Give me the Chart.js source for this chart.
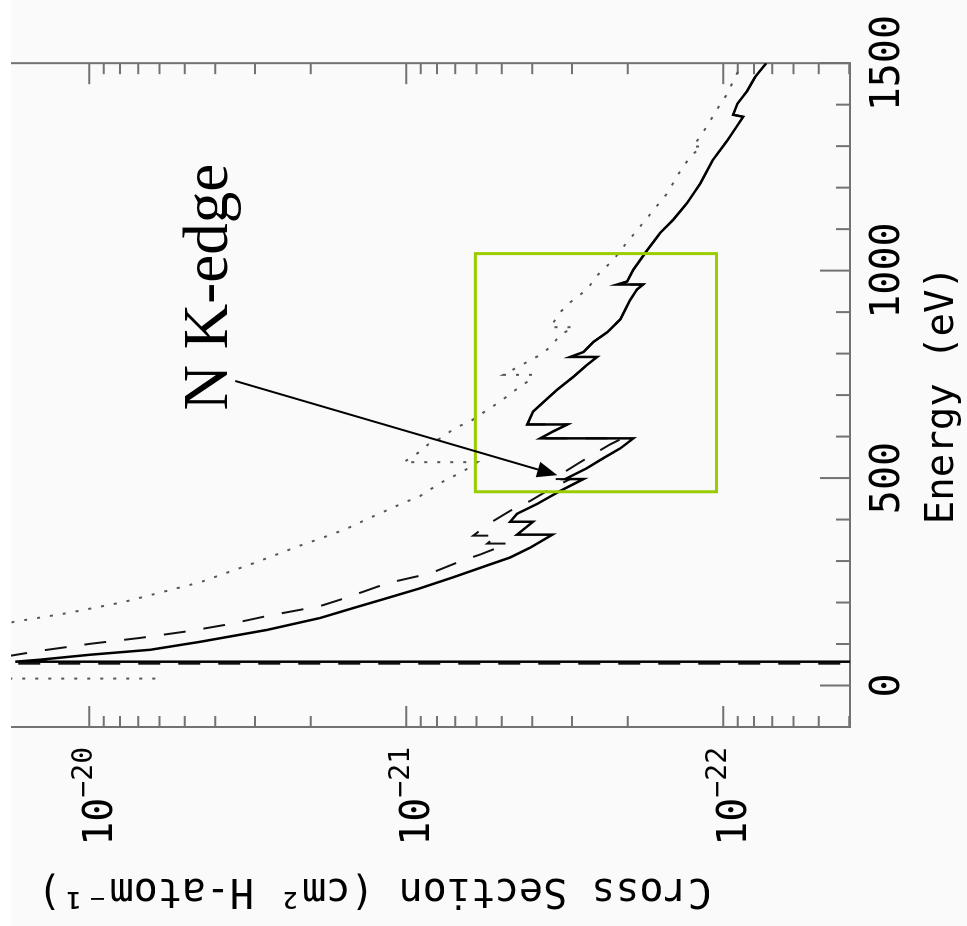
<!DOCTYPE html>
<html>
<head>
<meta charset="utf-8">
<title>Cross Section vs Energy</title>
<script src="https://cdn.jsdelivr.net/npm/chart.js@4.4.1/dist/chart.umd.min.js"></script>
<style>
	html, body { margin: 0; padding: 0; background: #fff; }
	#frame { position: absolute; left: 11px; top: 0; width: 956px; height: 926px; overflow: hidden; background: #fafafa; }
	#turn { position: absolute; left: -51px; top: -81px; width: 926px; height: 1088px; transform: rotate(-90deg); }
	#plot { display: block; }
</style>
</head>
<body>
<div id="frame"><div id="turn"><canvas id="plot" width="926" height="1088"></canvas></div></div>
<script>
// energies in eV, cross sections in cm^2 per H atom
var solidEnergy = [57.4, 57.4, 62.2, 74.2, 86.1, 105.3, 134.0, 162.7, 186.6, 210.5, 234.4, 260.8, 289.5, 308.6, 332.5, 363.6, 363.6, 394.7, 394.7, 413.9, 437.8, 468.9, 497.6, 497.6, 523.9, 547.8, 571.8, 595.7, 595.7, 612.4, 629.2, 629.2, 660.3, 691.4, 712.9, 744.0, 772.7, 791.9, 791.9, 803.8, 827.8, 851.7, 882.8, 928.2, 954.5, 966.5, 966.5, 973.7, 1002.4, 1043.1, 1090.9, 1122.0, 1162.7, 1210.5, 1265.6, 1313.4, 1370.8, 1375.6, 1401.9, 1433.0, 1466.5, 1500.0, 1516.7];
var solidSigma = [1e-23, 1.71e-20, 1.43e-20, 9.93e-21, 6.42e-21, 4.47e-21, 2.75e-21, 1.87e-21, 1.47e-21, 1.15e-21, 9.03e-22, 7.11e-22, 5.55e-22, 4.70e-22, 4.06e-22, 3.46e-22, 4.47e-22, 3.98e-22, 4.70e-22, 4.47e-22, 3.86e-22, 3.27e-22, 2.76e-22, 3.15e-22, 2.69e-22, 2.39e-22, 2.11e-22, 1.92e-22, 3.78e-22, 3.44e-22, 3.10e-22, 4.15e-22, 3.98e-22, 3.59e-22, 3.34e-22, 2.97e-22, 2.69e-22, 2.50e-22, 3.04e-22, 2.76e-22, 2.57e-22, 2.32e-22, 2.11e-22, 1.97e-22, 1.87e-22, 1.79e-22, 2.16e-22, 2.01e-22, 1.92e-22, 1.76e-22, 1.58e-22, 1.44e-22, 1.30e-22, 1.18e-22, 1.08e-22, 9.71e-23, 8.65e-23, 9.30e-23, 9.03e-23, 8.40e-23, 7.93e-23, 7.32e-23, 7.11e-23];

var dashEnergy = [52.6, 52.6, 83.7, 100.5, 114.8, 131.6, 148.3, 167.5, 191.4, 210.5, 246.4, 270.3, 299.0, 315.8, 342.1, 342.1, 361.2, 361.2, 392.3, 421.1, 445.0, 473.7, 497.6, 497.6, 533.5, 557.4, 581.3, 595.7, 595.7, 612.4, 629.2, 629.2, 660.3, 691.4, 712.9, 744.0, 772.7, 791.9, 791.9, 803.8, 827.8, 851.7, 882.8, 928.2, 954.5, 966.5, 966.5, 973.7, 1002.4, 1043.1, 1090.9, 1122.0, 1162.7, 1210.5, 1265.6, 1313.4, 1370.8, 1375.6, 1401.9, 1433.0, 1466.5, 1500.0, 1516.7];
var dashSigma = [1e-23, 2.5e-20, 1.43e-20, 9.93e-21, 6.90e-21, 4.80e-21, 3.59e-21, 2.75e-21, 1.87e-21, 1.56e-21, 1.15e-21, 8.40e-22, 6.76e-22, 5.84e-22, 4.77e-22, 5.55e-22, 5.16e-22, 6.15e-22, 5.43e-22, 4.70e-22, 4.06e-22, 3.51e-22, 3.04e-22, 3.44e-22, 2.89e-22, 2.57e-22, 2.27e-22, 2.08e-22, 3.78e-22, 3.44e-22, 3.10e-22, 4.15e-22, 3.98e-22, 3.59e-22, 3.34e-22, 2.97e-22, 2.69e-22, 2.50e-22, 3.04e-22, 2.76e-22, 2.57e-22, 2.32e-22, 2.11e-22, 1.97e-22, 1.87e-22, 1.79e-22, 2.16e-22, 2.01e-22, 1.92e-22, 1.76e-22, 1.58e-22, 1.44e-22, 1.30e-22, 1.18e-22, 1.08e-22, 9.71e-23, 8.65e-23, 9.30e-23, 9.03e-23, 8.40e-23, 7.93e-23, 7.32e-23, 7.11e-23];

var dotEnergy = [16.7, 16.7, 153.1, 174.6, 201.0, 248.8, 294.3, 337.3, 356.5, 378.0, 404.3, 440.2, 456.9, 483.3, 497.6, 509.6, 523.9, 538.3, 538.3, 547.8, 564.6, 581.3, 595.7, 612.4, 624.4, 636.4, 653.1, 672.2, 684.2, 703.3, 720.1, 732.1, 748.8, 748.8, 796.7, 815.8, 844.5, 863.6, 863.6, 899.5, 923.4, 954.5, 988.0, 1026.3, 1062.2, 1114.8, 1155.5, 1186.6, 1227.3, 1275.1, 1299.0, 1299.0, 1323.0, 1370.8, 1401.9, 1425.8, 1456.9, 1500.0, 1516.7];
var dotSigma = [6.19e-21, 5e-20, 1.74e-20, 1.17e-20, 7.81e-21, 4.47e-21, 3.04e-21, 2.16e-21, 1.83e-21, 1.54e-21, 1.30e-21, 1.02e-21, 9.03e-22, 7.98e-22, 7.43e-22, 6.85e-22, 6.37e-22, 5.97e-22, 1.02e-21, 9.71e-22, 9.03e-22, 8.52e-22, 7.81e-22, 7.26e-22, 6.85e-22, 6.28e-22, 5.84e-22, 5.35e-22, 5.05e-22, 4.70e-22, 4.37e-22, 4.15e-22, 3.98e-22, 4.94e-22, 3.78e-22, 3.51e-22, 3.27e-22, 2.97e-22, 3.51e-22, 3.27e-22, 3.04e-22, 2.69e-22, 2.50e-22, 2.22e-22, 2.04e-22, 1.79e-22, 1.62e-22, 1.50e-22, 1.40e-22, 1.27e-22, 1.17e-22, 1.25e-22, 1.18e-22, 1.08e-22, 1.02e-22, 9.71e-23, 9.30e-23, 8.71e-23, 8.5e-23];

var energyTicks = [0, 500, 1000, 1500];
var sigmaTickExp = [-20, -21, -22];

var mono = "'DejaVu Sans Mono', monospace";
var axisGray = '#727272';

// green box, arrow and label, placed in data coordinates
var note = {
	box: { e0: 467, e1: 1041, s0: 1.05e-22, s1: 6.05e-22 },
	from: { e: 734, s: 3.46e-21 },
	to: { e: 507, s: 3.34e-22 },
	label: { text: 'N K-edge', e: 663, s: 3.67e-21 }
};

function pairs(xs, ys) {
	return xs.map(function(x, i) { return { x: x, y: ys[i] }; });
}

var frameAndTicks = {
	id: 'frameAndTicks',
	beforeDatasetsDraw: function(chart) {
		var ctx = chart.ctx, a = chart.chartArea, xs = chart.scales.x, ys = chart.scales.y;
		ctx.save();
		ctx.strokeStyle = axisGray;
		ctx.lineWidth = 2;
		ctx.strokeRect(a.left, a.top, a.right - a.left, a.bottom - a.top);
		ctx.beginPath();
		for (var e = -100; e <= 1500; e += 100) {
			var u = xs.getPixelForValue(e), len = e % 500 === 0 ? 30 : 14;
			ctx.moveTo(u, a.bottom); ctx.lineTo(u, a.bottom - len);
			ctx.moveTo(u, a.top); ctx.lineTo(u, a.top + len);
		}
		for (var p = -23; p <= -20; p++) {
			for (var m = 1; m < 10; m++) {
				var val = m * Math.pow(10, p);
				if (val < ys.min || val > ys.max) continue;
				var v = ys.getPixelForValue(val), len2 = m === 1 ? 21 : 11;
				ctx.moveTo(a.left, v); ctx.lineTo(a.left + len2, v);
				ctx.moveTo(a.right, v); ctx.lineTo(a.right - len2, v);
			}
		}
		ctx.stroke();

		ctx.fillStyle = '#000';
		ctx.textAlign = 'left';
		ctx.textBaseline = 'alphabetic';
		sigmaTickExp.forEach(function(p) {
			var v = ys.getPixelForValue(Math.pow(10, p));
			var sup = '\u2212' + Math.abs(p);
			ctx.font = '40px ' + mono;
			var w1 = ctx.measureText('10').width;
			ctx.font = '28px ' + mono;
			var w2 = ctx.measureText(sup).width;
			var x0 = a.left - 20 - w1 - w2;
			ctx.font = '40px ' + mono;
			ctx.fillText('10', x0, v + 23);
			ctx.font = '28px ' + mono;
			ctx.fillText(sup, x0 + w1, v + 3);
		});
		ctx.restore();
	},
	afterDatasetsDraw: function(chart) {
		var ctx = chart.ctx, xs = chart.scales.x, ys = chart.scales.y;
		var b = note.box;
		var bx0 = xs.getPixelForValue(b.e0), bx1 = xs.getPixelForValue(b.e1);
		var by0 = ys.getPixelForValue(b.s1), by1 = ys.getPixelForValue(b.s0);
		ctx.save();
		ctx.strokeStyle = '#9acd00';
		ctx.lineWidth = 3;
		ctx.strokeRect(bx0, by0, bx1 - bx0, by1 - by0);

		var x1 = xs.getPixelForValue(note.from.e), y1 = ys.getPixelForValue(note.from.s);
		var x2 = xs.getPixelForValue(note.to.e), y2 = ys.getPixelForValue(note.to.s);
		var ang = Math.atan2(y2 - y1, x2 - x1), hl = 20, hw = 8;
		var bxm = x2 - hl * Math.cos(ang), bym = y2 - hl * Math.sin(ang);
		ctx.strokeStyle = '#000';
		ctx.fillStyle = '#000';
		ctx.lineWidth = 2;
		ctx.beginPath();
		ctx.moveTo(x1, y1);
		ctx.lineTo(bxm, bym);
		ctx.stroke();
		ctx.beginPath();
		ctx.moveTo(x2, y2);
		ctx.lineTo(bxm + hw * Math.sin(ang), bym - hw * Math.cos(ang));
		ctx.lineTo(bxm - hw * Math.sin(ang), bym + hw * Math.cos(ang));
		ctx.closePath();
		ctx.fill();

		ctx.font = "63px 'Liberation Serif', serif";
		ctx.textAlign = 'left';
		ctx.textBaseline = 'alphabetic';
		ctx.fillText(note.label.text, xs.getPixelForValue(note.label.e), ys.getPixelForValue(note.label.s));
		ctx.restore();
	}
};

new Chart(document.getElementById('plot'), {
	type: 'line',
	data: {
		datasets: [
			{ label: 'solid', data: pairs(solidEnergy, solidSigma), borderColor: '#000', borderWidth: 2.5, pointRadius: 0, tension: 0 },
			{ label: 'dashed', data: pairs(dashEnergy, dashSigma), borderColor: '#111', borderWidth: 2, borderDash: [22, 18], pointRadius: 0, tension: 0 },
			{ label: 'dotted', data: pairs(dotEnergy, dotSigma), borderColor: '#555', borderWidth: 2, borderDash: [3, 10], pointRadius: 0, tension: 0 }
		]
	},
	options: {
		responsive: false,
		animation: false,
		devicePixelRatio: 1,
		layout: { padding: { top: 20, right: 59, left: 0, bottom: 0 } },
		plugins: { legend: { display: false }, tooltip: { enabled: false } },
		scales: {
			x: {
				type: 'linear', position: 'bottom', min: -100, max: 1500,
				grid: { display: false, drawTicks: false }, border: { display: false },
				afterBuildTicks: function(s) { s.ticks = energyTicks.map(function(v) { return { value: v }; }); },
				afterFit: function(s) { s.height = 117; },
				ticks: { color: '#000', font: { family: mono, size: 40 }, padding: 15, maxRotation: 0, autoSkip: false,
					callback: function(v) { return String(v); } },
				title: { display: true, text: 'Energy (eV)', color: '#000', font: { family: mono, size: 39 }, padding: { top: 0, bottom: 1 } }
			},
			y: {
				type: 'logarithmic', position: 'left', min: Math.pow(10, -22.4), max: Math.pow(10, -19.4),
				grid: { display: false, drawTicks: false }, border: { display: false },
				afterFit: function(s) { s.width = 199; },
				ticks: { display: false },
				title: { display: true, text: 'Cross Section (cm\u00b2 H-atom\u207b\u00b9)', color: '#000', font: { family: mono, size: 40 }, padding: { top: 13, bottom: 0 } }
			}
		}
	},
	plugins: [frameAndTicks]
});
</script>
</body>
</html>
